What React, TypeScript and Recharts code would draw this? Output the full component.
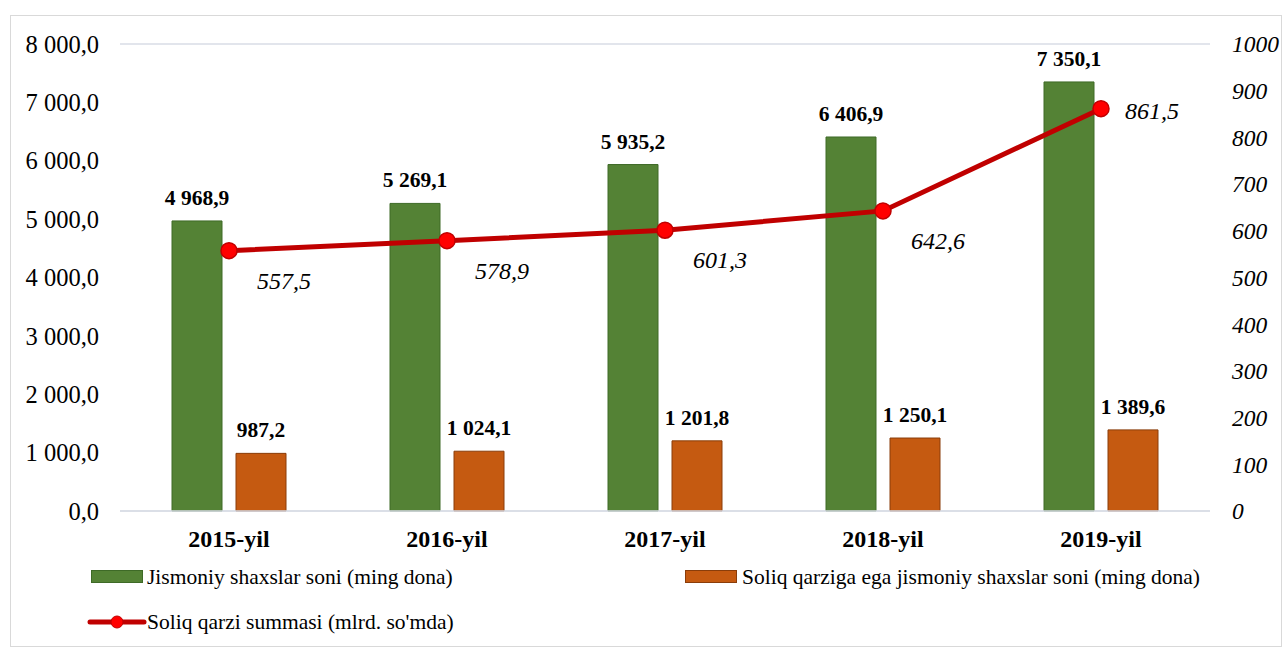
import React from "react";
import {
  ComposedChart,
  Bar,
  Line,
  XAxis,
  YAxis,
  CartesianGrid,
  LabelList,
} from "recharts";

const categories = ["2015-yil", "2016-yil", "2017-yil", "2018-yil", "2019-yil"];
const persons = [4968.9, 5269.1, 5935.2, 6406.9, 7350.1];
const debtors = [987.2, 1024.1, 1201.8, 1250.1, 1389.6];
const debtSum = [557.5, 578.9, 601.3, 642.6, 861.5];
const leftTicks = [0, 1000, 2000, 3000, 4000, 5000, 6000, 7000, 8000];
const rightTicks = [0, 100, 200, 300, 400, 500, 600, 700, 800, 900, 1000];

const seriesNames = {
  persons: "Jismoniy shaxslar soni (ming dona)",
  debtors: "Soliq qarziga ega jismoniy shaxslar soni (ming dona)",
  debtSum: "Soliq qarzi summasi (mlrd. so'mda)",
};

const data = categories.map((c, i) => ({
  name: c,
  persons: persons[i],
  debtors: debtors[i],
  debtSum: debtSum[i],
}));

const FONT = '"Liberation Serif", "Times New Roman", serif';
const GREEN = "#548235";
const GREEN_BORDER = "#3e6a27";
const ORANGE = "#c55a11";
const ORANGE_BORDER = "#8a3d0a";
const RED = "#c00000";

const fmt1 = (v: number) => {
  const [i, d] = v.toFixed(1).split(".");
  const withSp = i.replace(/\B(?=(\d{3})+(?!\d))/g, " ");
  return `${withSp},${d}`;
};

const BarLabel = (props: any) => {
  const { x, y, width, value } = props;
  return (
    <text
      x={x + width / 2}
      y={y - 16}
      textAnchor="middle"
      fontFamily={FONT}
      fontWeight="bold"
      fontSize={21.5}
      fill="#000"
    >
      {fmt1(value)}
    </text>
  );
};

const LineLabel = (props: any) => {
  const { x, y, value, index } = props;
  const last = index === debtSum.length - 1;
  const dx = last ? 24 : 28;
  const dy = last ? 10 : 38;
  return (
    <text
      x={x + dx}
      y={y + dy}
      textAnchor="start"
      fontFamily={FONT}
      fontStyle="italic"
      fontSize={24}
      fill="#000"
    >
      {fmt1(value)}
    </text>
  );
};

const legendText: React.CSSProperties = {
  fontFamily: FONT,
  fontSize: 21.5,
  color: "#000",
  position: "absolute",
  whiteSpace: "nowrap",
  lineHeight: "24px",
};

export default function App() {
  return (
    <div style={{ position: "absolute", left: 0, top: 0, width: 1284, height: 651, background: "#fff" }}>
      <div
        style={{
          position: "absolute",
          left: 10,
          top: 15,
          width: 1272,
          height: 632,
          border: "1px solid #d9d9d9",
          boxSizing: "border-box",
        }}
      />
      <div style={{ position: "absolute", left: 0, top: 0 }}>
        <ComposedChart
          width={1284}
          height={651}
          data={data}
          margin={{ top: 44, right: 10, left: 10, bottom: 100 }}
          barSize={50}
          barGap={14}
        >
          <CartesianGrid vertical={false} stroke="#d9dde6" strokeWidth={1.5} />
          <XAxis
            dataKey="name"
            axisLine={{ stroke: "#d9dde6", strokeWidth: 1.5 }}
            tickLine={false}
            height={40}
            tickMargin={13}
            tick={{ fontFamily: FONT, fontWeight: "bold", fontSize: 24, fill: "#000" }}
          />
          <YAxis
            yAxisId="left"
            orientation="left"
            width={110}
            domain={[0, 8000]}
            ticks={leftTicks}
            axisLine={false}
            tickLine={false}
            tickSize={0}
            tickMargin={21}
            tickFormatter={(v: number) => fmt1(v)}
            tick={{ fontFamily: FONT, fontSize: 24.5, fill: "#000" }}
          />
          <YAxis
            yAxisId="right"
            orientation="right"
            width={64}
            domain={[0, 1000]}
            ticks={rightTicks}
            axisLine={false}
            tickLine={false}
            tickSize={0}
            tickMargin={22}
            tick={{ fontFamily: FONT, fontSize: 23.5, fontStyle: "italic", fill: "#000", textAnchor: "start" }}
          />
          <Bar
            yAxisId="left"
            dataKey="persons"
            name={seriesNames.persons}
            fill={GREEN}
            stroke={GREEN_BORDER}
            strokeWidth={1}
            isAnimationActive={false}
          >
            <LabelList dataKey="persons" content={BarLabel} />
          </Bar>
          <Bar
            yAxisId="left"
            dataKey="debtors"
            name={seriesNames.debtors}
            fill={ORANGE}
            stroke={ORANGE_BORDER}
            strokeWidth={1}
            isAnimationActive={false}
          >
            <LabelList dataKey="debtors" content={BarLabel} />
          </Bar>
          <Line
            yAxisId="right"
            dataKey="debtSum"
            name={seriesNames.debtSum}
            stroke={RED}
            strokeWidth={5}
            dot={{ r: 8, fill: "#ff0000", stroke: RED, strokeWidth: 1.5 }}
            isAnimationActive={false}
          >
            <LabelList dataKey="debtSum" content={LineLabel} />
          </Line>
        </ComposedChart>
      </div>

      {/* Legend */}
      <div
        style={{
          position: "absolute",
          left: 91,
          top: 570,
          width: 52,
          height: 13,
          background: GREEN,
          border: `1px solid ${GREEN_BORDER}`,
          boxSizing: "border-box",
        }}
      />
      <div style={{ ...legendText, left: 147, top: 565 }}>{seriesNames.persons}</div>
      <div
        style={{
          position: "absolute",
          left: 685,
          top: 570,
          width: 52,
          height: 13,
          background: ORANGE,
          border: `1px solid ${ORANGE_BORDER}`,
          boxSizing: "border-box",
        }}
      />
      <div style={{ ...legendText, left: 742, top: 565 }}>{seriesNames.debtors}</div>
      <svg style={{ position: "absolute", left: 86, top: 610 }} width={62} height={24}>
        <line x1={4} y1={12} x2={58} y2={12} stroke={RED} strokeWidth={5} strokeLinecap="round" />
        <circle cx={31} cy={12} r={6} fill="#ff0000" stroke={RED} strokeWidth={1} />
      </svg>
      <div style={{ ...legendText, left: 147, top: 610 }}>{seriesNames.debtSum}</div>
    </div>
  );
}
